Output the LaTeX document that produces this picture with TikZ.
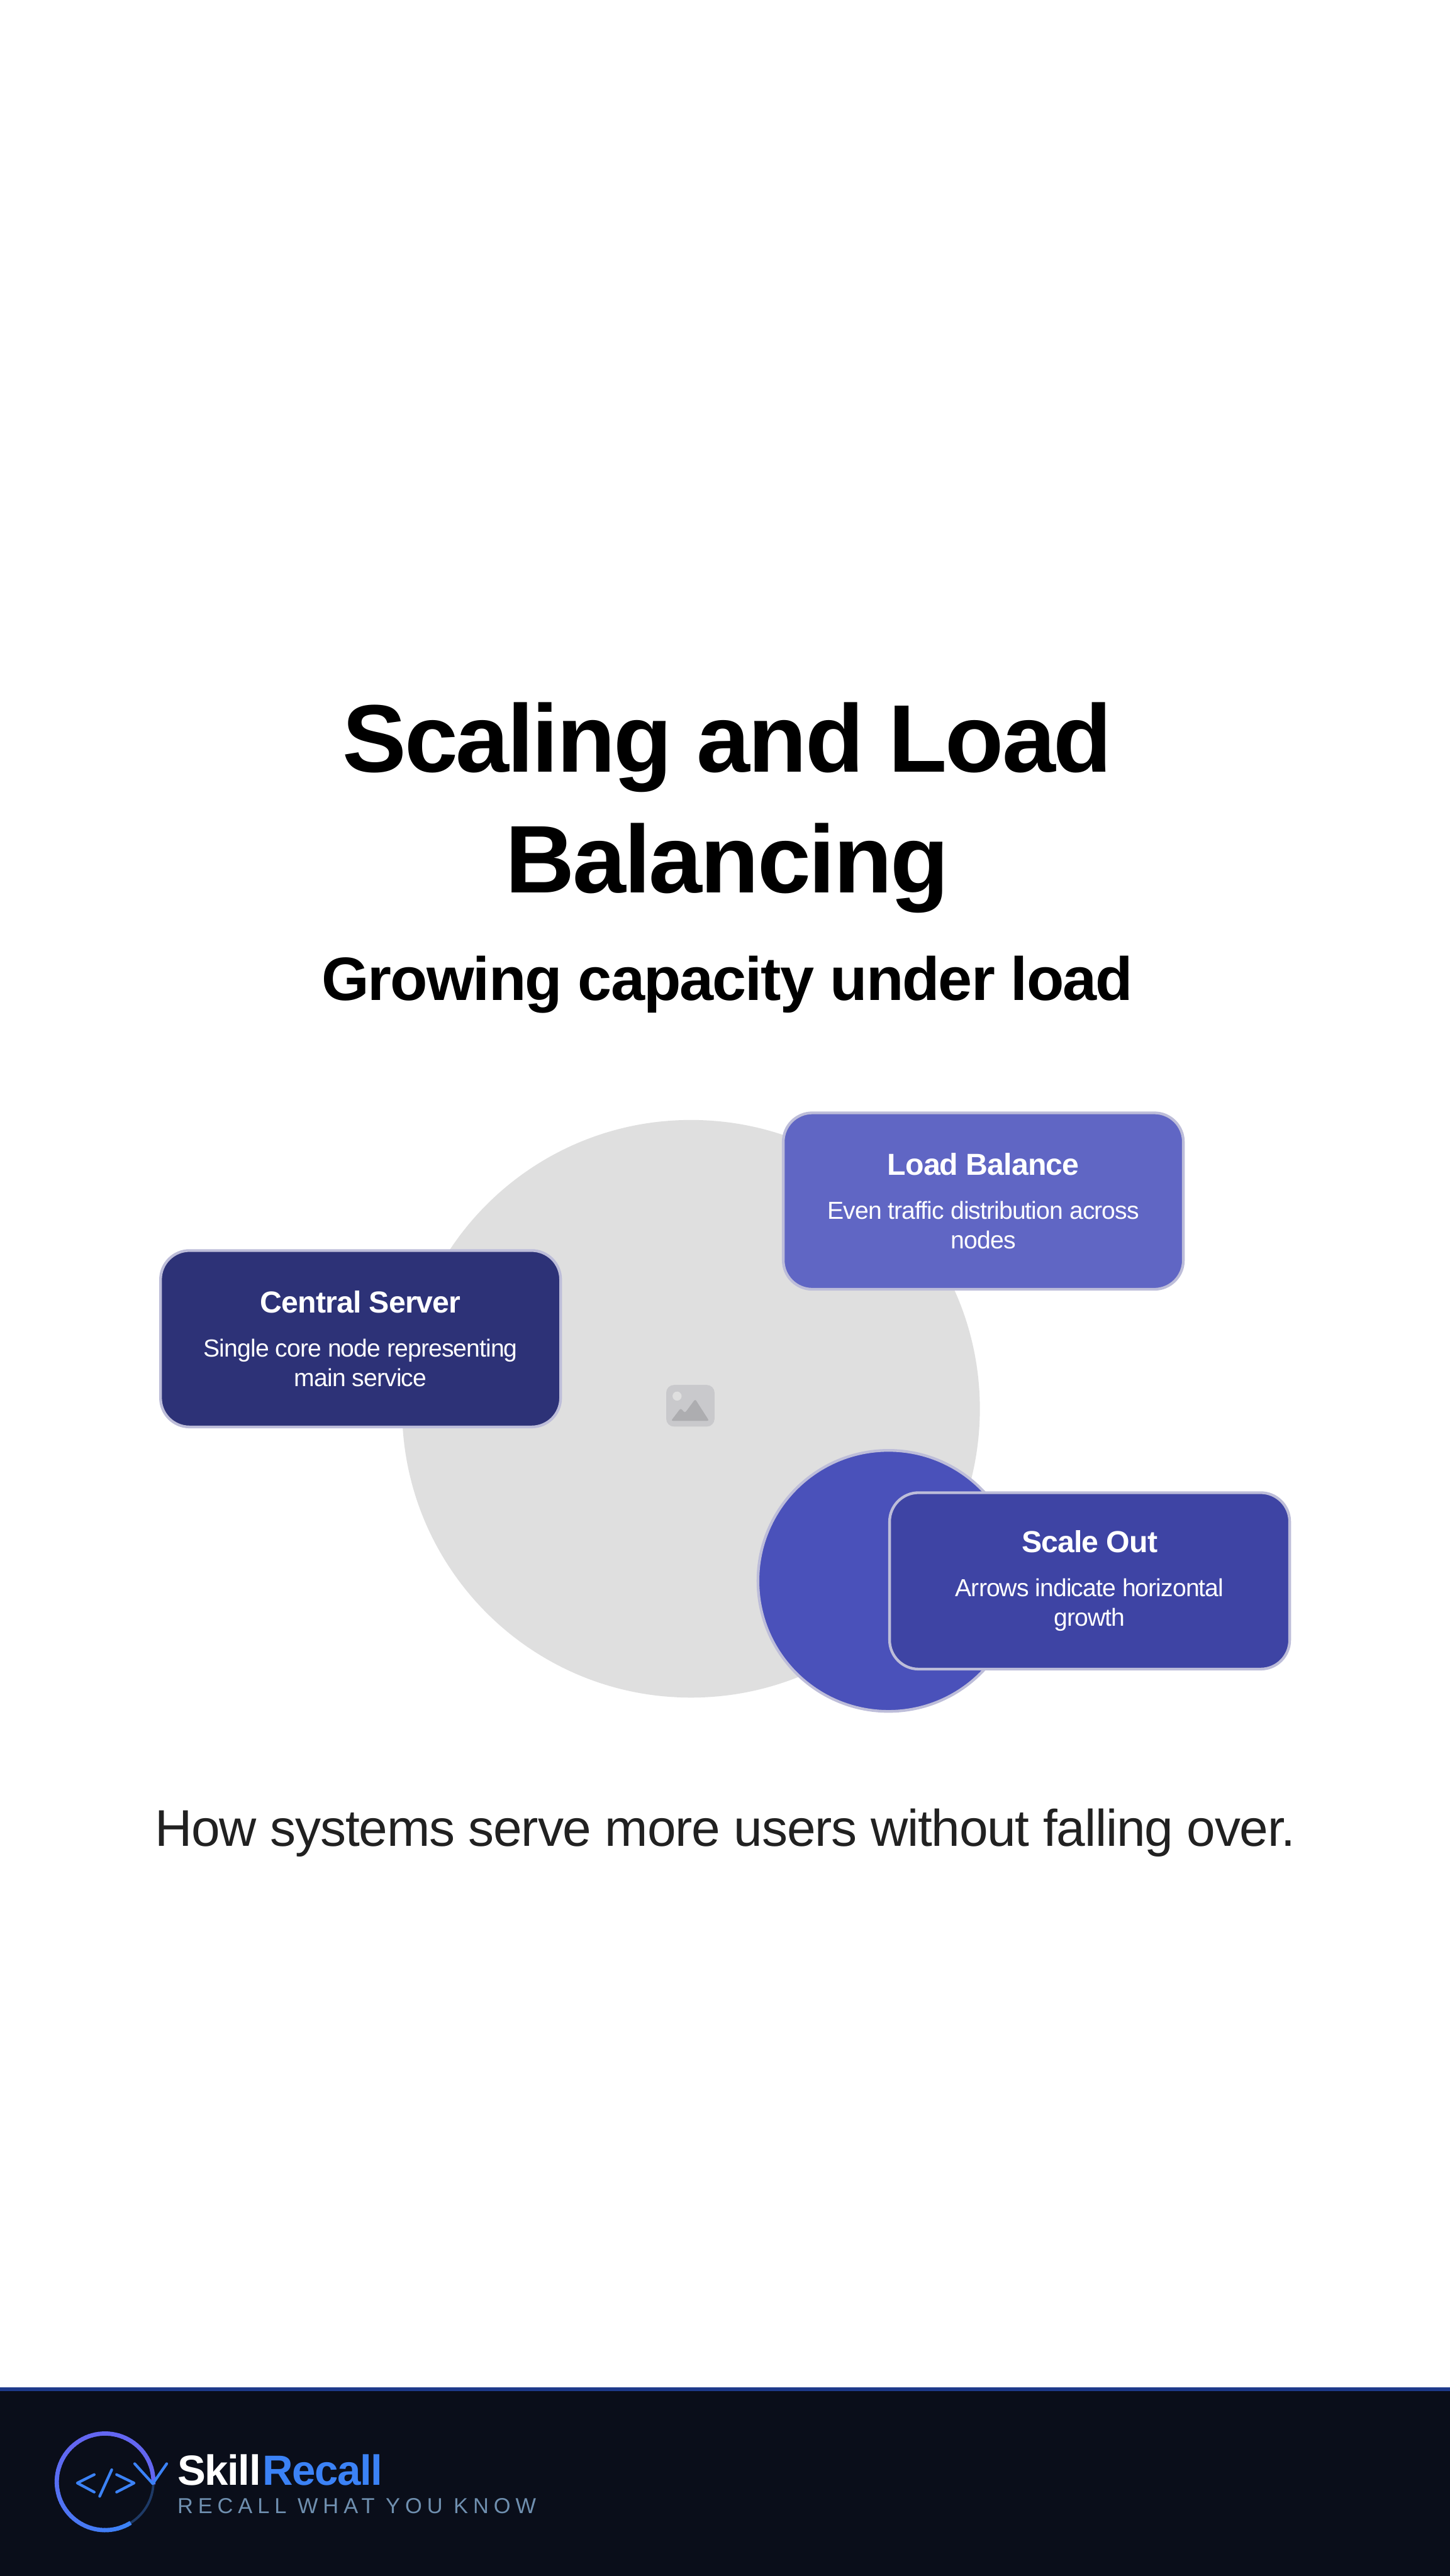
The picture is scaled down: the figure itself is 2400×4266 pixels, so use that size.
\documentclass[tikz,border=0pt]{standalone}
\usepackage{fontspec}
\setmainfont{Liberation Sans}
\newfontfamily\tagfont[LetterSpace=23]{Liberation Sans}
\newfontfamily\titlefont[LetterSpace=-2,BoldFont={Liberation Sans Bold}]{Liberation Sans}
\newfontfamily\tightfont[LetterSpace=-1.5]{Liberation Sans}
\newfontfamily\descfont[LetterSpace=-2.4]{Liberation Sans}
\newcommand{\cardhead}[1]{{\titlefont\bfseries\fontsize{14.3}{18}\selectfont #1}}
\usetikzlibrary{arrows.meta,positioning,shapes,shapes.geometric,fit}
\definecolor{hubgrey}{HTML}{DFDFDF}
\definecolor{picgrey}{HTML}{C9C9CC}
\definecolor{peakgrey}{HTML}{ADADB0}
\definecolor{edgelilac}{HTML}{BDBDD9}
\definecolor{cardnavy}{HTML}{2D3277}
\definecolor{cardviolet}{HTML}{6066C4}
\definecolor{cardindigo}{HTML}{3E44A4}
\definecolor{dotindigo}{HTML}{4A51BA}
\definecolor{footink}{HTML}{0A0E1A}
\definecolor{footline}{HTML}{1E3A8A}
\definecolor{logoblue}{HTML}{3B82F6}
\definecolor{logoviolet}{HTML}{6366F1}
\definecolor{logodim}{HTML}{1E3A66}
\definecolor{tagslate}{HTML}{6F8FAF}
\begin{document}
\begin{tikzpicture}[x=0.01cm,y=-0.01cm]
\tikzstyle{card}=[draw=edgelilac, line width=0.045cm, rounded corners=0.48cm, minimum width=6.62cm,
  minimum height=2.92cm, align=center, text=white, inner sep=0pt, font=\descfont\fontsize{11.6}{13.9}\selectfont]
\tikzstyle{headline}=[align=center, inner sep=0pt, font=\titlefont\bfseries\fontsize{45.2}{56.9}\selectfont]
\tikzstyle{logopen}=[logoblue, line width=0.045cm, line cap=round, line join=round]
\tikzstyle{brand}=[inner sep=0pt, font=\titlefont\bfseries\fontsize{19.9}{24}\selectfont]
\useasboundingbox (0,0) rectangle (2400,4266);
\fill[white] (-5,-5) rectangle (2405,4271);
% heading
\node[headline] (title) at (1204,1338) {Scaling and Load\\Balancing};
\node[inner sep=0pt, below=0.69cm of title, font=\titlefont\bfseries\fontsize{28.8}{36}\selectfont] (sub) {Growing capacity under load};
% circles
\node[circle, fill=hubgrey, minimum size=9.56cm, inner sep=0pt] (hub) at (1144,2333) {};
\node[rounded corners=0.13cm, fill=picgrey, minimum width=0.8cm, minimum height=0.69cm, inner sep=0pt] (pic) at (1143,2328) {};
\fill[hubgrey] (1121,2312) circle (7.5);
\fill[peakgrey, rounded corners=0.03cm] (1111,2353) -- (1127,2332) -- (1134,2340) -- (1151,2317) -- (1174,2353) -- cycle;
\node[circle, fill=dotindigo, draw=edgelilac, line width=0.045cm, minimum size=4.32cm, inner sep=0pt] (dot) at (1471,2618) {};
% cards
\node[card, fill=cardnavy] (central) at (597,2217) {\cardhead{Central Server}\\[0.24cm]
  Single core node representing\\main service};
\node[card, fill=cardviolet] (balance) at (1628,1989) {\cardhead{Load Balance}\\[0.24cm]
  Even traffic distribution across\\nodes};
\node[card, fill=cardindigo] (scale) at (1804,2618) {\cardhead{Scale Out}\\[0.24cm]
  Arrows indicate horizontal\\growth};
\node[inner sep=0pt, text=black!87, font=\tightfont\fontsize{24.3}{30}\selectfont] (lead) at (1201,3035) {How systems serve more users without falling over.};
% footer
\fill[footline] (-5,3954) rectangle (2405,3961);
\fill[footink] (-5,3960) rectangle (2405,4271);
\draw[logodim, line width=0.04cm] plot[domain=0:-59, samples=16] ({174+80*cos(\x)},{4110-80*sin(\x)});
\foreach \a in {-58,-62,...,-358} {
  \pgfmathsetmacro{\mixv}{min(100,max(0,(-\a-60)*0.6))}
  \draw[logoviolet!\mixv!logoblue, line width=0.07cm] plot[domain=\a:\a-5, samples=3] ({174+80*cos(\x)},{4110-80*sin(\x)});
}
\draw[logopen] (223,4080) -- (253,4113) -- (276,4080);
\draw[logopen] (156,4098) -- (128,4112) -- (156,4127);
\draw[logopen] (185,4090) -- (165,4134);
\draw[logopen] (193,4098) -- (222,4112) -- (193,4127);
\node[brand, text=white, anchor=base west] (skill) at (293,4115) {Skill};
\node[brand, text=logoblue, base right=0.01cm of skill] (recall) {Recall};
\node[inner sep=0pt, anchor=base west, text=tagslate, font=\tagfont\fontsize{10.2}{12}\selectfont] (tagline) at (293,4162) {RECALL WHAT YOU KNOW};
\end{tikzpicture}
\end{document}
